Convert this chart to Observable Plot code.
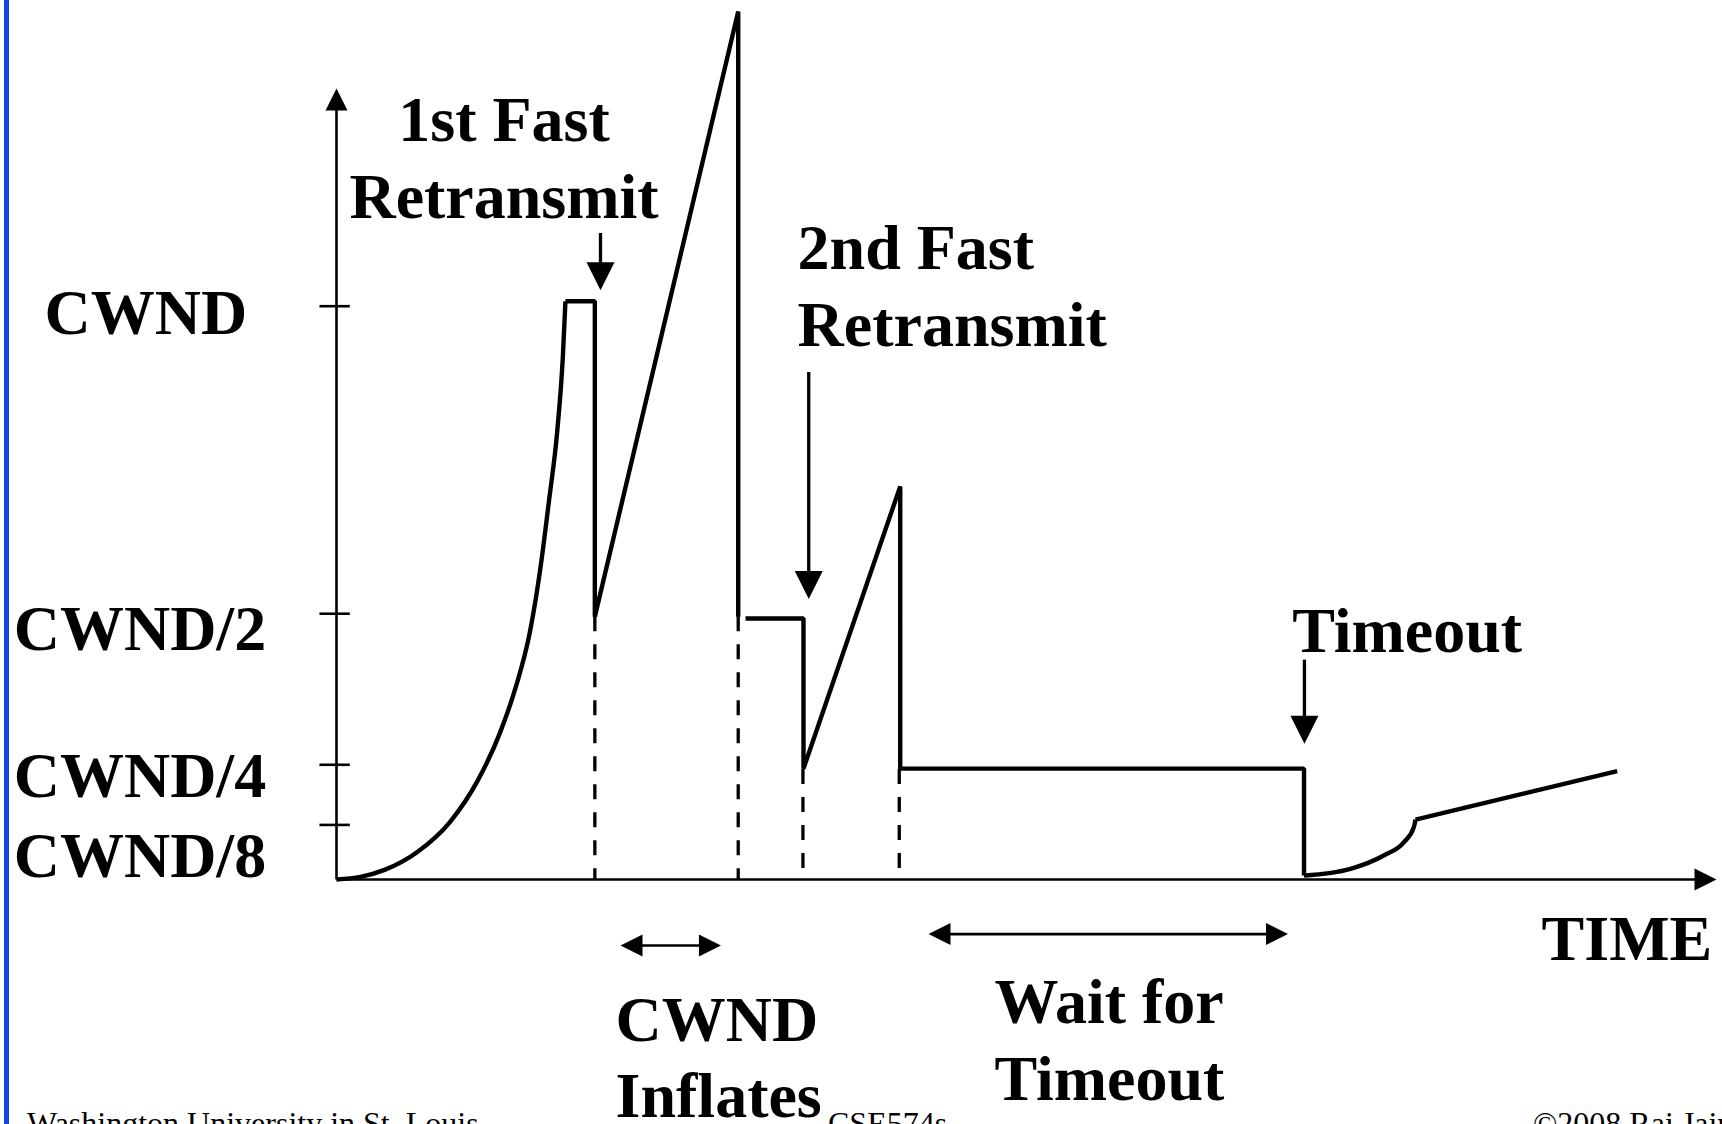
<!DOCTYPE html>
<html>
<head>
<meta charset="utf-8">
<script src="https://cdn.jsdelivr.net/npm/d3@7"></script>
<script src="https://cdn.jsdelivr.net/npm/@observablehq/plot@0.6"></script>
<style>
html, body { margin: 0; padding: 0; background: #fff; overflow: hidden; }
#slide { position: relative; width: 1722px; height: 1124px; overflow: hidden; background: #fff; }
#chart { position: absolute; left: 0; top: 0; }
#bar { position: absolute; left: 4px; top: 0; width: 5px; height: 1124px; background: #1446e6; }
.foot { position: absolute; top: 1107px; font-family: "Liberation Serif", serif; font-size: 32px; line-height: 32px; white-space: nowrap; color: #000; }
</style>
</head>
<body>
<div id="slide">
  <div id="chart"></div>
  <div id="bar"></div>
  <span class="foot" style="left:27px">Washington University in St. Louis</span>
  <span class="foot" style="left:828px">CSE574s</span>
  <span class="foot" style="left:1533px">©2008 Raj Jain</span>
</div>
<script>
// ---- Y axis ticks (window size, schematic) ----
const yTickValues = [1, 0.5, 0.25, 0.125];
const yTickLabels = ["CWND", "CWND/2", "CWND/4", "CWND/8"];
const yLabelT = [-21.16, -23.39, -23.39, -23.39];
const yLabelW = [0.954, 0.440, 0.182, 0.006];
// schematic (non-proportional) spacing of the window axis
const yWarpDomain = [0, 0.125, 0.25, 0.5, 1];
const yWarpShare = [0, 0.0952, 0.2001, 0.4636, 1];

// ---- CWND trace (time units, window in units of CWND) ----
// slow start
const slowStartT = [0, 1.74, 3.48, 5.86, 8.25, 10.23, 11.83, 13.01, 14.01, 14.80, 15.40, 16.00, 16.40, 16.59];
const slowStartW = [0, 0.006, 0.022, 0.063, 0.132, 0.217, 0.302, 0.380, 0.469, 0.578, 0.684, 0.798, 0.917, 1.008];
// 1st fast retransmit and window inflation
const phase1T = [16.59, 18.72, 18.72, 29.11, 29.11];
const phase1W = [1.008, 1.008, 0.495, 1.479, 0.495];
// 2nd fast retransmit, inflation, wait for timeout
const phase2T = [29.64, 33.84, 33.84, 40.85, 40.85, 70.11, 70.11];
const phase2W = [0.492, 0.492, 0.242, 0.707, 0.242, 0.242, 0.009];
// slow start after timeout
const restartT = [70.11, 73.48, 75.89, 77.34, 78.07, 78.19];
const restartW = [0.009, 0.0245, 0.055, 0.085, 0.120, 0.136];
// congestion avoidance
const linearT = [78.19, 92.80];
const linearW = [0.136, 0.237];

// ---- dashed drop lines ----
const dropT = [18.72, 29.11, 33.80, 40.78];
const dropTop = [0.495, 0.495, 0.240, 0.240];
const dropBottom = [0, 0, 0, 0.02];

// ---- axes extent ----
const axisTop = 1.354;
const axisEnd = 100;

// ---- callout arrows ----
const calloutT = [19.13, 34.22, 70.14];
const calloutFrom = [1.119, 0.893, 0.424];
const calloutTo = [1.026, 0.524, 0.285];

// ---- span (double) arrows ----
const spanStart = [20.58, 42.90];
const spanEnd = [27.86, 68.95];
const spanW = [-0.151, -0.125];

// ---- annotation texts ----
const noteText = ["1st Fast\nRetransmit", "2nd Fast\nRetransmit", "Timeout", "CWND\nInflates", "Wait for\nTimeout", "TIME"];
const noteT = [12.14, 33.41, 69.25, 20.22, 47.68, 99.69];
const noteW = [1.144, 0.936, 0.436, -0.544, -0.504, -0.185];
const noteAnchor = ["middle", "start", "start", "start", "start", "end"];

// ---- build tables ----
const yWarp = d3.scaleLinear().domain(yWarpDomain).range(yWarpShare);
const pts = (T, W) => T.map((t, i) => ({t, w: W[i]}));
const yLabels = yTickLabels.map((label, i) => ({label, t: yLabelT[i], w: yLabelW[i]}));
const drops = dropT.map((t, i) => ({t, top: dropTop[i], bottom: dropBottom[i]}));
const notes = noteText.map((label, i) => ({label, t: noteT[i], w: noteW[i], anchor: noteAnchor[i]}));
const callouts = calloutT.map((t, i) => ({t, from: calloutFrom[i], to: calloutTo[i]}));
const spans = spanStart.map((s, i) => ({s, e: spanEnd[i], w: spanW[i]}));
const axes = [
  {x1: 0, y1: 0, x2: 0, y2: axisTop},
  {x1: 0, y1: 0, x2: axisEnd, y2: 0}
];

const head = (len, wid) => ({
  draw(ctx) { ctx.moveTo(0, 0); ctx.lineTo(wid / 2, len); ctx.lineTo(-wid / 2, len); ctx.closePath(); }
});
const bigHead = head(28, 28);
const smallHead = head(22, 22);
const smallHeads = [
  {x: 0, y: axisTop, r: 0},
  {x: axisEnd, y: 0, r: 90},
  ...spans.map(d => ({x: d.s, y: d.w, r: -90})),
  ...spans.map(d => ({x: d.e, y: d.w, r: 90}))
];
const bigHeads = callouts.map(d => ({x: d.t, y: d.to, r: 180}));

const lineStyle = {x: "t", y: "w", stroke: "black", strokeWidth: 4.4, strokeLinejoin: "miter", strokeLinecap: "butt"};
const textStyle = {x: "t", y: "w", text: "label", fill: "black", fontFamily: "Liberation Serif", fontWeight: "bold", fontSize: 64, lineAnchor: "bottom", lineHeight: 1.19};

const chart = Plot.plot({
  width: 1722,
  height: 1124,
  margin: 0,
  style: {background: "white", fontFamily: "Liberation Serif", overflow: "visible"},
  x: {domain: [0, 100], range: [336, 1716], axis: null},
  y: {transform: yWarp, domain: [0, 1], range: [879, 305.7], axis: null},
  marks: [
    // axes
    Plot.arrow(axes, {x1: "x1", y1: "y1", x2: "x2", y2: "y2", stroke: "black", strokeWidth: 2.6, headLength: 0, insetEnd: 12, strokeLinecap: "butt"}),
    Plot.ruleY(yTickValues, {y: d => d, x1: -1.2, x2: 1.0, stroke: "black", strokeWidth: 2.6}),
    // dashed drop lines
    Plot.ruleX(drops, {x: "t", y1: "top", y2: "bottom", stroke: "black", strokeWidth: 3.3, strokeDasharray: "15,13"}),
    // CWND trace
    Plot.line(pts(slowStartT, slowStartW), {...lineStyle, curve: "monotone-x"}),
    Plot.line(pts(phase1T, phase1W), lineStyle),
    Plot.line(pts(phase2T, phase2W), lineStyle),
    Plot.line(pts(restartT, restartW), {...lineStyle, curve: "monotone-x"}),
    Plot.line(pts(linearT, linearW), lineStyle),
    // callout arrows
    Plot.arrow(callouts, {x: "t", y1: "from", y2: "to", stroke: "black", strokeWidth: 3.3, headLength: 0, insetEnd: 16, strokeLinecap: "butt"}),
    Plot.arrow(spans, {x1: "s", x2: "e", y: "w", stroke: "black", strokeWidth: 2.6, headLength: 0, insetStart: 12, insetEnd: 12, strokeLinecap: "butt"}),
    Plot.dot(bigHeads, {x: "x", y: "y", rotate: "r", symbol: bigHead, fill: "black", stroke: "none"}),
    Plot.dot(smallHeads, {x: "x", y: "y", rotate: "r", symbol: smallHead, fill: "black", stroke: "none"}),
    // labels
    Plot.text(yLabels, {...textStyle, textAnchor: "start"}),
    Plot.text(notes.filter(d => d.anchor === "middle"), {...textStyle, textAnchor: "middle"}),
    Plot.text(notes.filter(d => d.anchor === "start"), {...textStyle, textAnchor: "start"}),
    Plot.text(notes.filter(d => d.anchor === "end"), {...textStyle, textAnchor: "end"})
  ]
});
document.getElementById("chart").appendChild(chart);
</script>
</body>
</html>
